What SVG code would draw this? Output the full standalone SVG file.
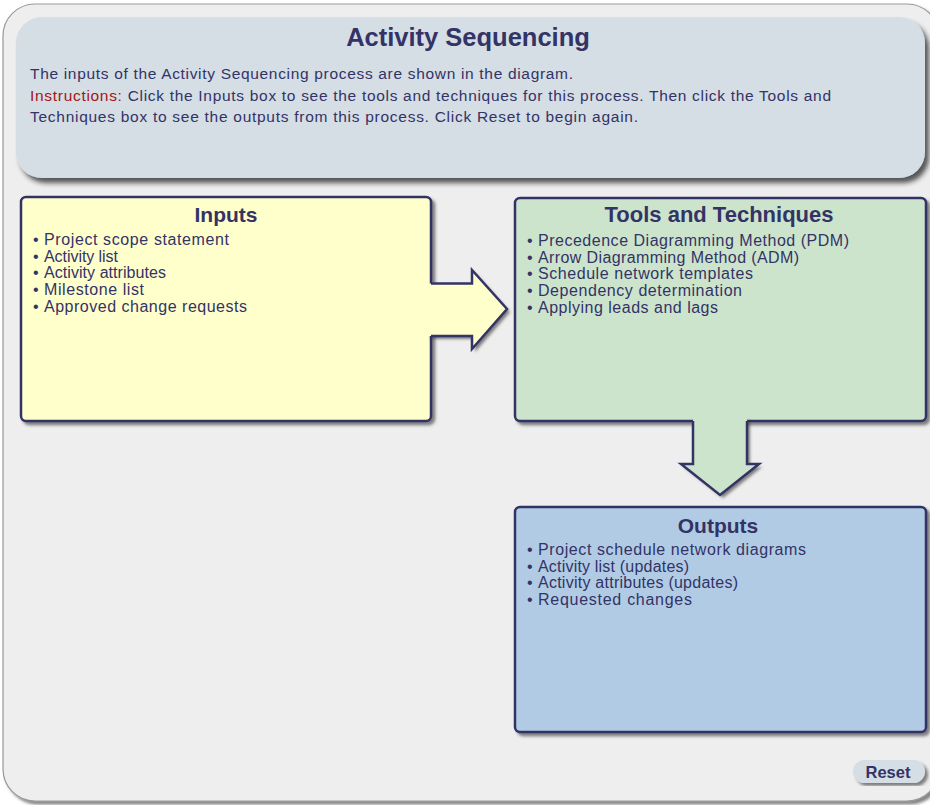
<svg xmlns="http://www.w3.org/2000/svg" width="930" height="805" viewBox="0 0 930 805">
<defs>
<filter id="sh" x="-5%" y="-5%" width="115%" height="115%">
<feDropShadow dx="3" dy="3" stdDeviation="1.5" flood-color="#333" flood-opacity="0.6"/>
</filter>
<filter id="sh2" x="-5%" y="-5%" width="115%" height="120%">
<feDropShadow dx="4" dy="5" stdDeviation="2.5" flood-color="#222" flood-opacity="0.75"/>
</filter>
<style>
.t{font-family:"Liberation Sans",Arial,sans-serif;fill:#333366}
.h{font-weight:bold;text-anchor:middle}
.b{font-size:15.5px}
.li{font-size:16px}
.box{stroke:#333366;stroke-width:2.5}
.edge{fill:none;stroke:#333366;stroke-width:2.5;stroke-linejoin:miter}
</style>
</defs>
<rect x="0" y="0" width="930" height="805" fill="#ffffff"/>
<g id="panel">
<rect x="3" y="4" width="936" height="797" rx="32" fill="#eeeeee" stroke="#999" stroke-width="1.2" filter="url(#sh)"/>
</g>
<g id="header">
<rect x="16" y="17" width="909" height="161" rx="26" fill="#d5dde5" filter="url(#sh2)"/>
<text class="t h" x="468" y="46" font-size="25.5">Activity Sequencing</text>
<text class="t b" x="30" y="79" textLength="543" lengthAdjust="spacing">The inputs of the Activity Sequencing process are shown in the diagram.</text>
<text class="t b" x="30" y="101" textLength="801" lengthAdjust="spacing"><tspan fill="#a31515">Instructions:</tspan> Click the Inputs box to see the tools and techniques for this process. Then click the Tools and</text>
<text class="t b" x="30" y="122" textLength="608" lengthAdjust="spacing">Techniques box to see the outputs from this process. Click Reset to begin again.</text>
</g>
<g id="inputs">
<rect class="box" x="21" y="197" width="410" height="224" rx="5" fill="#ffffcc" filter="url(#sh)"/>
<text class="t h" x="226" y="222" font-size="21">Inputs</text>
<text class="t li" y="245"><tspan x="33">•</tspan><tspan x="44" textLength="185" lengthAdjust="spacing">Project scope statement</tspan></text>
<text class="t li" y="262"><tspan x="33">•</tspan><tspan x="44" textLength="74" lengthAdjust="spacing">Activity list</tspan></text>
<text class="t li" y="278"><tspan x="33">•</tspan><tspan x="44" textLength="122" lengthAdjust="spacing">Activity attributes</tspan></text>
<text class="t li" y="295"><tspan x="33">•</tspan><tspan x="44" textLength="100" lengthAdjust="spacing">Milestone list</tspan></text>
<text class="t li" y="312"><tspan x="33">•</tspan><tspan x="44" textLength="203" lengthAdjust="spacing">Approved change requests</tspan></text>
</g>
<g id="tools">
<rect class="box" x="515" y="198" width="411" height="223" rx="5" fill="#cde4cc" filter="url(#sh)"/>
<text class="t h" x="719" y="222" font-size="22">Tools and Techniques</text>
<text class="t li" y="246"><tspan x="527">•</tspan><tspan x="538" textLength="311" lengthAdjust="spacing">Precedence Diagramming Method (PDM)</tspan></text>
<text class="t li" y="263"><tspan x="527">•</tspan><tspan x="538" textLength="261" lengthAdjust="spacing">Arrow Diagramming Method (ADM)</tspan></text>
<text class="t li" y="279"><tspan x="527">•</tspan><tspan x="538" textLength="215" lengthAdjust="spacing">Schedule network templates</tspan></text>
<text class="t li" y="296"><tspan x="527">•</tspan><tspan x="538" textLength="204" lengthAdjust="spacing">Dependency determination</tspan></text>
<text class="t li" y="313"><tspan x="527">•</tspan><tspan x="538" textLength="180" lengthAdjust="spacing">Applying leads and lags</tspan></text>
</g>
<g id="outputs">
<rect class="box" x="515" y="507" width="411" height="225" rx="5" fill="#b1cbe4" filter="url(#sh)"/>
<text class="t h" x="718" y="533" font-size="21">Outputs</text>
<text class="t li" y="555"><tspan x="527">•</tspan><tspan x="538" textLength="268" lengthAdjust="spacing">Project schedule network diagrams</tspan></text>
<text class="t li" y="572"><tspan x="527">•</tspan><tspan x="538" textLength="151" lengthAdjust="spacing">Activity list (updates)</tspan></text>
<text class="t li" y="588"><tspan x="527">•</tspan><tspan x="538" textLength="200" lengthAdjust="spacing">Activity attributes (updates)</tspan></text>
<text class="t li" y="605"><tspan x="527">•</tspan><tspan x="538" textLength="154" lengthAdjust="spacing">Requested changes</tspan></text>
</g>
<g id="connectors">
<g filter="url(#sh)">
<path d="M428,283.5 H472 V270 L507,309 L472,349 V336 H428 Z" fill="#ffffcc"/>
</g>
<path class="edge" d="M431,283.5 H472 V270 L507,309 L472,349 V336 H431"/>
<g filter="url(#sh)">
<path d="M693,418 V464 H681 L720,495 L759,464 H747 V418 Z" fill="#cde4cc"/>
</g>
<path class="edge" d="M693,421 V464 H681 L720,495 L759,464 H747 V421"/>
</g>
<g id="reset">
<rect x="853" y="760" width="72" height="23" rx="11.5" fill="#d5dde5" filter="url(#sh)"/>
<text class="t h" x="888" y="778" font-size="16.5">Reset</text>
</g>
</svg>
